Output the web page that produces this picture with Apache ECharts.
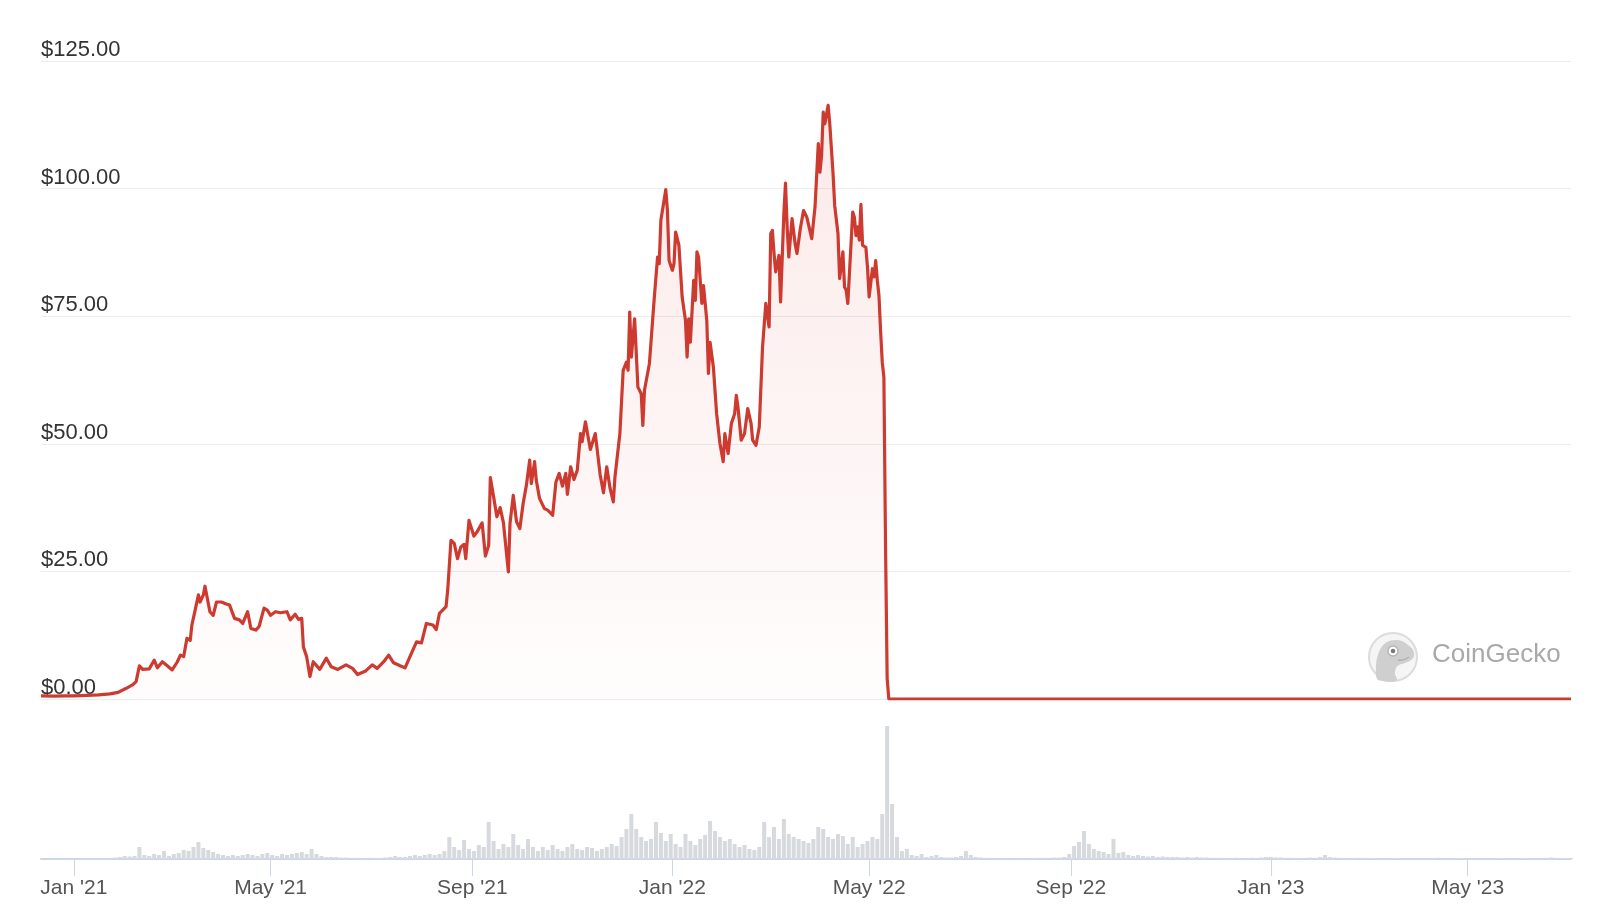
<!DOCTYPE html>
<html><head><meta charset="utf-8">
<script src="https://cdn.jsdelivr.net/npm/echarts@6/dist/echarts.min.js"></script>
<style>html,body{margin:0;padding:0;background:#fff}#c{width:1600px;height:920px}</style>
</head><body><div id="c"></div>
<script>
// ---- DATA ----
const priceDates = [
'2020-12-12','2020-12-20','2020-12-27','2021-01-01','2021-01-09','2021-01-16','2021-01-23','2021-01-28','2021-02-02','2021-02-06',
'2021-02-08','2021-02-10','2021-02-12','2021-02-16','2021-02-19','2021-02-21','2021-02-24','2021-02-27','2021-03-02','2021-03-05',
'2021-03-07','2021-03-09','2021-03-11','2021-03-13','2021-03-14','2021-03-16','2021-03-18','2021-03-19','2021-03-21','2021-03-22',
'2021-03-25','2021-03-27','2021-03-29','2021-04-01','2021-04-04','2021-04-06','2021-04-09','2021-04-12','2021-04-14','2021-04-17',
'2021-04-19','2021-04-22','2021-04-24','2021-04-27','2021-04-29','2021-05-01','2021-05-04','2021-05-07','2021-05-11','2021-05-13',
'2021-05-16','2021-05-18','2021-05-20','2021-05-21','2021-05-23','2021-05-25','2021-05-27','2021-05-31','2021-06-04','2021-06-07',
'2021-06-11','2021-06-16','2021-06-20','2021-06-23','2021-06-28','2021-07-02','2021-07-05','2021-07-09','2021-07-12','2021-07-15',
'2021-07-19','2021-07-22','2021-07-25','2021-07-29','2021-08-01','2021-08-04','2021-08-08','2021-08-10','2021-08-12','2021-08-16',
'2021-08-17','2021-08-19','2021-08-21','2021-08-23','2021-08-25','2021-08-27','2021-08-28','2021-08-30','2021-09-02','2021-09-04',
'2021-09-07','2021-09-09','2021-09-11','2021-09-12','2021-09-14','2021-09-16','2021-09-18','2021-09-20','2021-09-23','2021-09-24',
'2021-09-26','2021-09-28','2021-09-30','2021-10-02','2021-10-04','2021-10-06','2021-10-07','2021-10-09','2021-10-10','2021-10-12',
'2021-10-15','2021-10-17','2021-10-20','2021-10-22','2021-10-24','2021-10-26','2021-10-28','2021-10-29','2021-10-31','2021-11-02',
'2021-11-04','2021-11-06','2021-11-07','2021-11-09','2021-11-12','2021-11-15','2021-11-18','2021-11-20','2021-11-22','2021-11-24',
'2021-11-26','2021-11-27','2021-11-30','2021-12-02','2021-12-04','2021-12-05','2021-12-06','2021-12-07','2021-12-09','2021-12-11',
'2021-12-13','2021-12-14','2021-12-15','2021-12-18','2021-12-21','2021-12-23','2021-12-24','2021-12-25','2021-12-28','2021-12-29',
'2021-12-30','2022-01-01','2022-01-02','2022-01-03','2022-01-05','2022-01-07','2022-01-09','2022-01-10','2022-01-11','2022-01-12',
'2022-01-14','2022-01-15','2022-01-16','2022-01-17','2022-01-19','2022-01-20','2022-01-22','2022-01-23','2022-01-24','2022-01-26',
'2022-01-28','2022-01-30','2022-02-01','2022-02-02','2022-02-04','2022-02-06','2022-02-08','2022-02-09','2022-02-10','2022-02-11',
'2022-02-12','2022-02-14','2022-02-16','2022-02-18','2022-02-19','2022-02-21','2022-02-23','2022-02-25','2022-02-27','2022-03-01',
'2022-03-02','2022-03-03','2022-03-04','2022-03-05','2022-03-07','2022-03-08','2022-03-10','2022-03-11','2022-03-12','2022-03-13',
'2022-03-15','2022-03-17','2022-03-18','2022-03-20','2022-03-22','2022-03-24','2022-03-25','2022-03-27','2022-03-29','2022-03-31',
'2022-04-01','2022-04-02','2022-04-03','2022-04-04','2022-04-06','2022-04-07','2022-04-09','2022-04-10','2022-04-11','2022-04-12',
'2022-04-13','2022-04-15','2022-04-16','2022-04-17','2022-04-18','2022-04-21','2022-04-22','2022-04-23','2022-04-24','2022-04-25',
'2022-04-26','2022-04-27','2022-04-29','2022-04-30','2022-05-01','2022-05-03','2022-05-04','2022-05-05','2022-05-06','2022-05-07',
'2022-05-08','2022-05-09','2022-05-10','2022-05-11','2022-05-12','2022-05-13','2022-05-14','2022-06-01','2022-07-01','2022-08-01',
'2022-09-01','2022-10-01','2022-11-01','2022-12-01','2023-01-01','2023-02-01','2023-03-01','2023-04-01','2023-05-01','2023-06-01',
'2023-07-03'
];
const priceUSD = [
0.6,0.55,0.6,0.6,0.7,0.8,1.0,1.3,2.1,2.8,
3.4,6.5,5.8,5.9,7.6,6.1,7.3,6.5,5.7,7.2,
8.6,8.3,11.9,11.5,14.5,17.4,20.4,19.0,20.4,22.1,
17.1,16.4,19.0,19.0,18.6,18.4,15.8,15.5,14.8,17.1,
13.8,13.5,14.2,17.8,17.4,16.4,17.1,16.9,17.1,15.5,
16.6,15.6,15.8,10.2,8.3,4.4,7.3,5.8,8.0,6.3,
5.8,6.7,6.0,4.8,5.5,6.7,6.0,7.3,8.6,7.1,
6.5,6.1,8.3,11.2,11.0,14.8,14.5,13.6,16.8,18.1,
21.3,31.1,30.5,27.5,29.8,30.3,27.5,35.0,31.9,32.8,
34.5,28.0,30.1,43.4,39.6,35.7,37.5,34.5,24.9,34.4,
39.9,34.7,33.4,38.3,41.9,46.8,42.2,46.5,42.9,39.3,
37.3,37.0,36.0,42.5,44.2,41.7,44.2,40.1,45.5,43.0,
44.8,52.0,50.4,54.3,48.9,52.0,43.9,40.4,45.5,41.3,
38.6,43.5,52.0,64.4,66.0,64.4,75.8,67.0,74.5,61.1,
59.8,53.6,60.5,65.7,78.7,86.6,85.3,93.8,99.8,95.7,
85.9,84.0,85.3,91.5,88.9,78.7,74.2,67.0,74.5,69.9,
82.0,78.1,87.6,86.6,77.5,81.0,74.2,63.8,69.9,65.1,
55.9,50.1,46.5,52.0,48.1,54.0,55.9,59.5,57.2,54.0,
50.7,52.0,56.9,54.0,50.7,49.7,53.3,69.0,77.5,72.9,
91.2,91.8,87.3,83.7,86.9,77.8,95.1,101.1,92.5,86.6,
94.1,88.9,87.3,92.1,95.7,94.4,94.7,90.2,96.4,108.8,
103.2,106.5,115.0,112.7,116.3,112.7,102.9,96.7,97.0,91.2,
82.4,87.6,80.7,80.1,77.5,95.4,94.4,90.8,92.5,89.9,
96.9,88.9,88.5,84.6,78.8,84.3,82.7,85.9,82.0,79.0,
72.0,66.0,63.0,30.0,4.0,0.01,0.0002,0.0001,0.0001,0.0001,
0.0003,0.0003,0.0002,0.0001,0.00015,0.00018,0.00014,0.00013,0.0001,0.00009,
0.00009
];
// trading volume, USD billions, one value every 3 days from volumeStart
const volumeStart = '2020-12-12';
const volumeStepDays = 3;
const volumeUSDbn = [
0.03,0.03,0.03,0.04,0.04,0.04,0.05,0.05,0.05,0.06,
0.06,0.06,0.07,0.08,0.09,0.15,0.2,0.3,0.25,0.3,
1.2,0.4,0.3,0.5,0.4,0.8,0.3,0.5,0.6,0.9,
0.8,1.2,1.7,1.1,0.9,0.7,0.5,0.4,0.3,0.4,
0.3,0.4,0.5,0.4,0.3,0.5,0.6,0.4,0.3,0.5,
0.4,0.5,0.6,0.7,0.5,1.0,0.5,0.3,0.2,0.2,
0.2,0.15,0.15,0.12,0.12,0.1,0.1,0.12,0.1,0.1,
0.15,0.2,0.3,0.2,0.2,0.3,0.4,0.3,0.4,0.5,
0.4,0.5,0.8,2.2,1.2,0.9,1.9,1.0,0.8,1.4,
1.2,3.7,1.8,1.0,1.5,1.2,2.5,1.4,1.0,2.0,
1.2,0.8,1.2,0.9,1.4,1.0,0.8,1.2,1.5,1.0,
0.9,1.2,1.1,0.8,1.0,1.2,1.5,1.3,2.2,3.0,
4.5,3.0,2.2,1.8,2.0,3.7,2.6,1.8,2.5,1.5,
1.2,2.5,1.8,1.4,2.0,2.4,3.8,2.8,2.2,1.8,
2.0,1.5,1.2,1.4,1.0,0.9,1.2,3.7,2.2,3.2,
2.0,4.0,2.5,2.2,2.0,1.8,1.6,2.0,3.2,3.0,
2.2,2.0,2.5,2.3,1.5,2.2,1.2,1.5,1.8,2.2,
2.0,4.5,13.3,5.5,2.2,0.8,1.0,0.4,0.3,0.5,
0.2,0.3,0.4,0.2,0.15,0.15,0.2,0.3,0.8,0.4,
0.2,0.15,0.12,0.12,0.1,0.1,0.1,0.1,0.1,0.1,
0.1,0.1,0.1,0.12,0.12,0.12,0.15,0.15,0.2,0.5,
1.3,1.7,2.8,1.5,1.0,0.8,0.7,0.5,2.0,0.6,
0.7,0.4,0.3,0.4,0.3,0.25,0.3,0.2,0.25,0.2,
0.2,0.2,0.15,0.2,0.15,0.2,0.15,0.15,0.12,0.12,
0.12,0.1,0.1,0.12,0.1,0.1,0.12,0.1,0.15,0.2,
0.2,0.15,0.15,0.12,0.12,0.1,0.1,0.12,0.15,0.12,
0.2,0.4,0.2,0.15,0.12,0.1,0.1,0.1,0.12,0.1,
0.1,0.1,0.1,0.1,0.1,0.1,0.1,0.1,0.1,0.1,
0.1,0.1,0.1,0.1,0.12,0.1,0.1,0.1,0.1,0.1,
0.1,0.1,0.1,0.1,0.1,0.1,0.1,0.1,0.1,0.1,
0.1,0.1,0.1,0.1,0.1,0.1,0.12,0.15,0.1,0.1,
0.1,0.1
];
const yTickValues = [0, 25, 50, 75, 100, 125];
const xTickDates = ['2021-01-01','2021-05-01','2021-09-01','2022-01-01','2022-05-01','2022-09-01','2023-01-01','2023-05-01'];
const xTickLabels = ["Jan '21","May '21","Sep '21","Jan '22","May '22","Sep '22","Jan '23","May '23"];
const axisStart = '2020-12-12';
const axisEnd = '2023-07-03';

// ---- BUILD ----
function parseDate(s) { const p = s.split('-').map(Number); return new Date(p[0], p[1] - 1, p[2]).getTime(); }
const priceData = priceDates.map((d, i) => [parseDate(d), priceUSD[i]]);
const vs = volumeStart.split('-').map(Number);
const volumeData = volumeUSDbn.map((v, i) => [new Date(vs[0], vs[1] - 1, vs[2] + i * volumeStepDays).getTime(), v]);
const tickTimes = xTickDates.map(parseDate);
const FONT = 'Liberation Sans, Arial, sans-serif';
const xMin = parseDate(axisStart), xMax = parseDate(axisEnd);

const chart = echarts.init(document.getElementById('c'), null, { renderer: 'canvas' });
chart.setOption({
  animation: false,
  backgroundColor: '#ffffff',
  grid: [
    { left: 41, right: 29, top: 61, bottom: 221 },
    { left: 41, right: 29, top: 715, bottom: 61 }
  ],
  xAxis: [
    { type: 'value', gridIndex: 0, min: xMin, max: xMax, scale: true,
      axisLine: { show: false }, axisTick: { show: false }, axisLabel: { show: false }, splitLine: { show: false } },
    { type: 'value', gridIndex: 1, min: xMin, max: xMax, scale: true,
      axisLine: { show: true, onZero: false, lineStyle: { color: '#ccd6eb', width: 2 } },
      axisTick: { show: true, customValues: tickTimes, length: 17, lineStyle: { color: '#ccd6eb', width: 1 } },
      axisLabel: { show: true, customValues: tickTimes, hideOverlap: false, margin: 19,
        color: '#555555', fontSize: 21, fontFamily: FONT,
        formatter: function (val) {
          for (let i = 0; i < tickTimes.length; i++) { if (Math.abs(tickTimes[i] - val) < 43200000) return xTickLabels[i]; }
          return '';
        } },
      splitLine: { show: false } }
  ],
  yAxis: [
    { type: 'value', gridIndex: 0, min: yTickValues[0], max: yTickValues[yTickValues.length - 1], interval: 25,
      axisLine: { show: false }, axisTick: { show: false },
      splitLine: { show: true, lineStyle: { color: '#ececec', width: 1 } },
      axisLabel: { inside: true, margin: 0, verticalAlign: 'bottom', lineHeight: 22,
        showMinLabel: true, showMaxLabel: true,
        color: '#333333', fontSize: 22, fontFamily: FONT,
        formatter: v => '$' + v.toFixed(2) } },
    { type: 'value', gridIndex: 1, min: 0, max: 14.4, show: false, splitLine: { show: false } }
  ],
  series: [
    { type: 'bar', xAxisIndex: 1, yAxisIndex: 1, data: volumeData, barWidth: 4,
      itemStyle: { color: '#d6d9dd' }, silent: true, z: 1 },
    { type: 'line', xAxisIndex: 0, yAxisIndex: 0, data: priceData, showSymbol: false, symbol: 'none',
      lineStyle: { color: '#cd3a2f', width: 3.2, join: 'round' },
      areaStyle: { origin: 'start', color: new echarts.graphic.LinearGradient(0, 0, 0, 1, [
        { offset: 0, color: 'rgba(222,80,70,0.17)' }, { offset: 1, color: 'rgba(222,80,70,0.02)' }]) },
      z: 3 }
  ],
  graphic: [
    { type: 'circle', silent: true, z: 0, shape: { cx: 1393, cy: 657, r: 24 }, style: { fill: '#f5f5f5', stroke: '#dcdcdc', lineWidth: 2 } },
    { type: 'polygon', silent: true, z: 1, shape: { smooth: 0.35, points: [
        [1377,679],[1376,668],[1377,658],[1381,648],[1387,642],[1395,640],[1402,641],[1408,645],[1413,650],[1414,656],
        [1411,660],[1405,663],[1399,665],[1396,668],[1395,674],[1397,680],[1390,682],[1383,681]] },
      style: { fill: '#cfcfcf' } },
    { type: 'circle', silent: true, z: 2, shape: { cx: 1393, cy: 651, r: 5 }, style: { fill: '#ffffff', stroke: '#b5b5b5', lineWidth: 1.5 } },
    { type: 'circle', silent: true, z: 3, shape: { cx: 1393, cy: 651, r: 2.3 }, style: { fill: '#7a7a7a' } },
    { type: 'bezierCurve', silent: true, z: 3, shape: { x1: 1398, y1: 660, x2: 1409, y2: 657, cpx1: 1404, cpy1: 661 }, style: { fill: null, stroke: '#b0b0b0', lineWidth: 1.5 } },
    { type: 'text', silent: true, z: 1, x: 1432, y: 655, style: { text: 'CoinGecko', fill: '#a9a9a9', font: '26px Liberation Sans, Arial, sans-serif', verticalAlign: 'middle', align: 'left' } }
  ]
});
</script>
</body></html>
